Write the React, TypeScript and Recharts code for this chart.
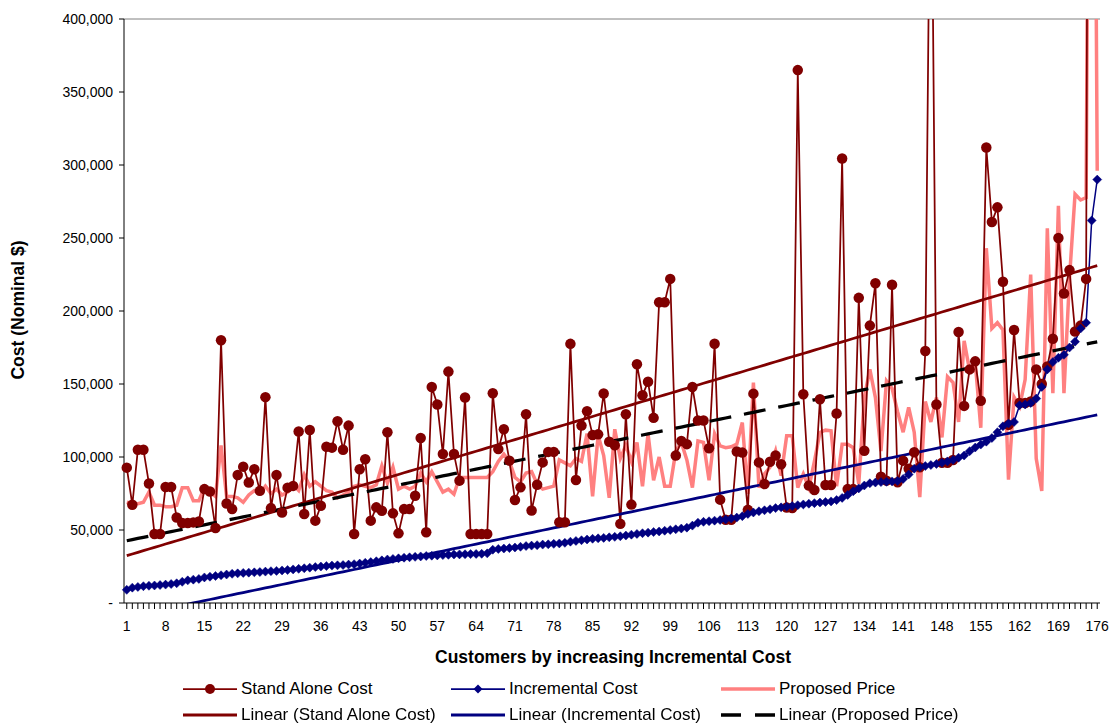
import React from 'react';
import { ComposedChart, Line, XAxis, YAxis, ReferenceLine } from 'recharts';

// customers 1..176, sorted by increasing incremental cost
const customers: number[] = Array.from({ length: 176 }, (_, i) => i + 1);

// all values in $ thousands (points above 400,000 are estimated)
const standAloneK = [
  92.7, 67.3, 105, 105, 81.8, 47.3, 47.3, 79.5, 79.5, 58.6,
  54.8, 54.8, 55.2, 55.9, 78, 76.4, 51.4, 180, 68.2, 64.3,
  87.7, 93.4, 82.5, 91.6, 76.8, 141, 65, 87.7, 62, 79,
  80.2, 117.5, 61, 118.5, 56.4, 66.6, 107, 106.4, 124.5, 105,
  121.5, 47.3, 91.6, 98.4, 56.4, 65.5, 63.2, 117, 61.4, 47.7,
  64.3, 64.3, 73.4, 113, 48.5, 148, 136, 102, 158.5, 102,
  83.8, 140.7, 47.3, 47.3, 47.3, 47.3, 143.7, 105.4, 119, 97.5,
  70.6, 79.2, 129.3, 63.3, 81, 96.3, 103.5, 103.5, 55.3, 55.3,
  177.5, 84.3, 121.5, 131.3, 115, 115.5, 143.5, 110.5, 108, 54.2,
  129.3, 67.4, 163.5, 142.3, 151.5, 126.8, 206, 206, 222, 101,
  111, 108.8, 148, 125, 125, 106, 177.6, 70.8, 57, 57,
  103.8, 103, 63.8, 143.4, 96.3, 81.5, 96.8, 101, 95, 65.4,
  65, 365, 143, 80.4, 77.4, 139.6, 80.8, 80.8, 129.8, 304.5,
  78, 78, 209, 104.3, 190, 219, 86.5, 83.8, 218, 82.7,
  97.5, 92, 103.3, 93, 172.6, 567, 136, 96, 96, 98,
  185.6, 135, 160, 165.5, 138.5, 312, 261, 271, 220, 122,
  187, 137, 137, 138, 160, 150, 162, 181, 250, 212,
  228, 186, 190, 222, 1394, 1394,
];

const incrementalK = [
  9, 10.5, 11, 11.5, 11.8, 12, 12.3, 12.6, 13, 13.5,
  14.5, 15.5, 16, 16.5, 17.5, 18, 18.5, 19, 19.5, 20,
  20.3, 20.6, 20.8, 21, 21.2, 21.5, 21.8, 22, 22.3, 22.6,
  23, 23.4, 23.8, 24.2, 24.6, 25, 25.3, 25.6, 25.8, 26,
  26.3, 26.6, 27, 27.5, 28, 28.6, 29.2, 29.8, 30.2, 30.6,
  31, 31.3, 31.6, 31.9, 32.2, 32.4, 32.6, 32.8, 33, 33.2,
  33.3, 33.4, 33.5, 33.6, 33.7, 34, 36.5, 37, 37.3, 37.6,
  38, 38.5, 39, 39.3, 39.6, 40, 40.2, 40.5, 40.8, 41.2,
  42, 42.5, 43, 43.5, 44, 44.3, 44.6, 45, 45.3, 45.7,
  46.2, 46.8, 47.3, 47.8, 48.2, 48.6, 49, 49.5, 50, 50.5,
  51, 51.6, 53, 55, 55.6, 56, 56.4, 56.8, 57.2, 57.8,
  58.5, 59.5, 61, 62, 62.8, 63.5, 64.2, 65, 65.5, 66,
  66.4, 67, 67.5, 68, 68.4, 68.8, 69.2, 69.6, 70.5, 72,
  74, 76.5, 78.5, 80.5, 82, 82.5, 82.8, 83, 83.3, 83.6,
  85, 88, 92, 93, 93.8, 94.5, 95.2, 96, 97, 98,
  99.5, 101, 104, 106.5, 108.5, 110.5, 113, 117, 121, 123,
  124, 135.5, 136, 137, 140, 148, 160, 165, 168, 170,
  175, 179, 188, 192, 262, 290,
];

const proposedK = [
  69, 68, 68, 69, 76, 67, 67, 66, 66, 67,
  79, 79, 70, 70, 79, 76, 73, 108, 73, 73,
  72, 69, 74, 77, 75, 80, 75, 78, 74, 76,
  81, 77, 88, 80, 83, 80, 77, 76, 72, 74,
  76, 80, 81, 80, 79, 81, 94, 82, 93, 78,
  80, 78, 80, 89, 83, 90, 83, 76, 78, 74.5,
  86, 86, 86, 86, 86, 86, 90, 97, 102, 97,
  86, 83, 89, 90, 81.5, 78, 79, 80, 98, 96,
  94, 99, 97, 116, 73, 115, 101, 72, 119, 99,
  108, 97, 110, 80, 116, 84, 100, 80, 80, 104,
  110, 98, 79, 111, 110, 84, 116, 107.6, 106.4, 107,
  108.8, 123.6, 74.7, 151, 79, 88.4, 93, 104.3, 87.2, 114.5,
  114.5, 79, 88.4, 79, 97, 116.8, 118.4, 118, 80, 108.8,
  108.8, 106.4, 81.5, 140.7, 160, 140.7, 104, 152, 147, 131,
  117, 134, 117, 72.5, 138, 124, 140.7, 113.4, 155, 151,
  124, 179.5, 159, 165, 120, 243, 188, 192, 187, 84.5,
  141, 134.5, 153, 225, 99, 76.7, 256.6, 143.7, 272, 143.7,
  222.5, 280, 276, 277.6, 925, 296,
];

const yTicks = [0, 50000, 100000, 150000, 200000, 250000, 300000, 350000, 400000];

const FONT = '"Liberation Sans", Arial, sans-serif';
const SA_COLOR = '#800000';
const INC_COLOR = '#000080';
const PROP_COLOR = '#FF8080';

// least squares trendline, like Excel's "Linear" trendline
function linearFit(ys: number[]): number[] {
  const n = ys.length;
  let sx = 0, sy = 0, sxy = 0, sxx = 0;
  ys.forEach((y, i) => {
    const x = i + 1;
    sx += x;
    sy += y;
    sxy += x * y;
    sxx += x * x;
  });
  const b = (n * sxy - sx * sy) / (n * sxx - sx * sx);
  const a = (sy - b * sx) / n;
  return ys.map((_, i) => a + b * (i + 1));
}

const saTrend = linearFit(standAloneK);
const incTrend = linearFit(incrementalK);
const propTrend = linearFit(proposedK);

const data = customers.map((c, i) => ({
  customer: c,
  standAlone: standAloneK[i] * 1000,
  incremental: incrementalK[i] * 1000,
  proposed: proposedK[i] * 1000,
  saTrend: saTrend[i] * 1000,
  incTrend: incTrend[i] * 1000,
  propTrend: propTrend[i] * 1000,
}));

const formatY = (v: number) => (v === 0 ? '-' : v.toLocaleString('en-US'));

const XTick = (props: any) => {
  const { x, y, payload } = props;
  if ((payload.value - 1) % 7 !== 0) return <g />;
  return (
    <text x={x} y={y} dy={18} textAnchor="middle" fontSize={14} fontFamily={FONT} fill="#000">
      {payload.value}
    </text>
  );
};

const Diamond = (props: any) => {
  const { cx, cy, index } = props;
  if (cx == null || cy == null) return <g key={`d${index}`} />;
  const s = 4.5;
  return (
    <path
      key={`d${index}`}
      d={`M${cx},${cy - s}L${cx + s},${cy}L${cx},${cy + s}L${cx - s},${cy}Z`}
      fill={INC_COLOR}
      stroke={INC_COLOR}
      strokeWidth={0.5}
    />
  );
};

type LegendItem = { label: string; x: number; textX: number; y: number; marker: React.ReactNode };

const legendItems: LegendItem[] = [
  {
    label: 'Stand Alone Cost', x: 183, textX: 241, y: 689,
    marker: (
      <>
        <line x1={0} y1={6} x2={54} y2={6} stroke={SA_COLOR} strokeWidth={1.75} />
        <circle cx={27} cy={6} r={5} fill={SA_COLOR} />
      </>
    ),
  },
  {
    label: 'Incremental Cost', x: 451, textX: 509, y: 689,
    marker: (
      <>
        <line x1={0} y1={6} x2={54} y2={6} stroke={INC_COLOR} strokeWidth={1.75} />
        <path d="M27,1.5L31.5,6L27,10.5L22.5,6Z" fill={INC_COLOR} />
      </>
    ),
  },
  {
    label: 'Proposed Price', x: 721, textX: 779, y: 689,
    marker: <line x1={0} y1={6} x2={54} y2={6} stroke={PROP_COLOR} strokeWidth={3.5} />,
  },
  {
    label: 'Linear (Stand Alone Cost)', x: 183, textX: 241, y: 715,
    marker: <line x1={0} y1={6} x2={54} y2={6} stroke={SA_COLOR} strokeWidth={3} />,
  },
  {
    label: 'Linear (Incremental Cost)', x: 451, textX: 509, y: 715,
    marker: <line x1={0} y1={6} x2={54} y2={6} stroke={INC_COLOR} strokeWidth={3} />,
  },
  {
    label: 'Linear (Proposed Price)', x: 721, textX: 779, y: 715,
    marker: <line x1={0} y1={6} x2={54} y2={6} stroke="#000" strokeWidth={3.5} strokeDasharray="20 14" />,
  },
];

export default function App() {
  return (
    <div style={{ position: 'fixed', left: 0, top: 0, width: 1119, height: 724, background: '#fff', fontFamily: FONT }}>
      <ComposedChart width={1119} height={724} data={data} margin={{ top: 19, right: 19, bottom: 81, left: 0 }}>
        <XAxis
          dataKey="customer"
          scale="band"
          interval={0}
          tickSize={6}
          tickMargin={4}
          tick={<XTick />}
          axisLine={{ stroke: '#000' }}
          tickLine={{ stroke: '#000' }}
          height={40}
        />
        <YAxis
          domain={[0, 400000]}
          ticks={yTicks}
          allowDataOverflow
          width={124}
          tickSize={5}
          tickMargin={6}
          tickFormatter={formatY}
          tick={{ fontSize: 14, fill: '#000', fontFamily: FONT }}
          axisLine={{ stroke: '#000' }}
          tickLine={{ stroke: '#000' }}
        />
        <YAxis
          yAxisId="r"
          orientation="right"
          domain={[0, 400000]}
          width={0}
          tick={false}
          tickLine={false}
          axisLine={{ stroke: '#808080' }}
        />
        <ReferenceLine y={400000} stroke="#808080" />
        <Line
          dataKey="proposed"
          stroke={PROP_COLOR}
          strokeWidth={3.5}
          dot={false}
          activeDot={false}
          isAnimationActive={false}
        />
        <Line
          dataKey="standAlone"
          stroke={SA_COLOR}
          strokeWidth={1.75}
          dot={{ r: 5.25, fill: SA_COLOR, stroke: SA_COLOR, strokeWidth: 0 }}
          activeDot={false}
          isAnimationActive={false}
        />
        <Line
          dataKey="incremental"
          stroke={INC_COLOR}
          strokeWidth={1.5}
          dot={Diamond}
          activeDot={false}
          isAnimationActive={false}
        />
        <Line dataKey="saTrend" stroke={SA_COLOR} strokeWidth={2.75} dot={false} activeDot={false} isAnimationActive={false} />
        <Line dataKey="incTrend" stroke={INC_COLOR} strokeWidth={2.75} dot={false} activeDot={false} isAnimationActive={false} />
        <Line
          dataKey="propTrend"
          stroke="#000"
          strokeWidth={3.25}
          strokeDasharray="22 13"
          dot={false}
          activeDot={false}
          isAnimationActive={false}
        />
      </ComposedChart>

      <div
        style={{
          position: 'absolute', left: 18, top: 310, transform: 'translate(-50%, -50%) rotate(-90deg)',
          fontWeight: 'bold', fontSize: 17.5, whiteSpace: 'nowrap', color: '#000',
        }}
      >
        Cost (Nominal $)
      </div>
      <div
        style={{
          position: 'absolute', left: 613, top: 657, transform: 'translate(-50%, -50%)',
          fontWeight: 'bold', fontSize: 17.5, whiteSpace: 'nowrap', color: '#000',
        }}
      >
        Customers by increasing Incremental Cost
      </div>

      {legendItems.map((item) => (
        <React.Fragment key={item.label}>
          <svg style={{ position: 'absolute', left: item.x, top: item.y - 6 }} width={54} height={12}>
            {item.marker}
          </svg>
          <div
            style={{
              position: 'absolute', left: item.textX, top: item.y, transform: 'translateY(-50%)',
              fontSize: 17, whiteSpace: 'nowrap', color: '#000',
            }}
          >
            {item.label}
          </div>
        </React.Fragment>
      ))}
    </div>
  );
}
